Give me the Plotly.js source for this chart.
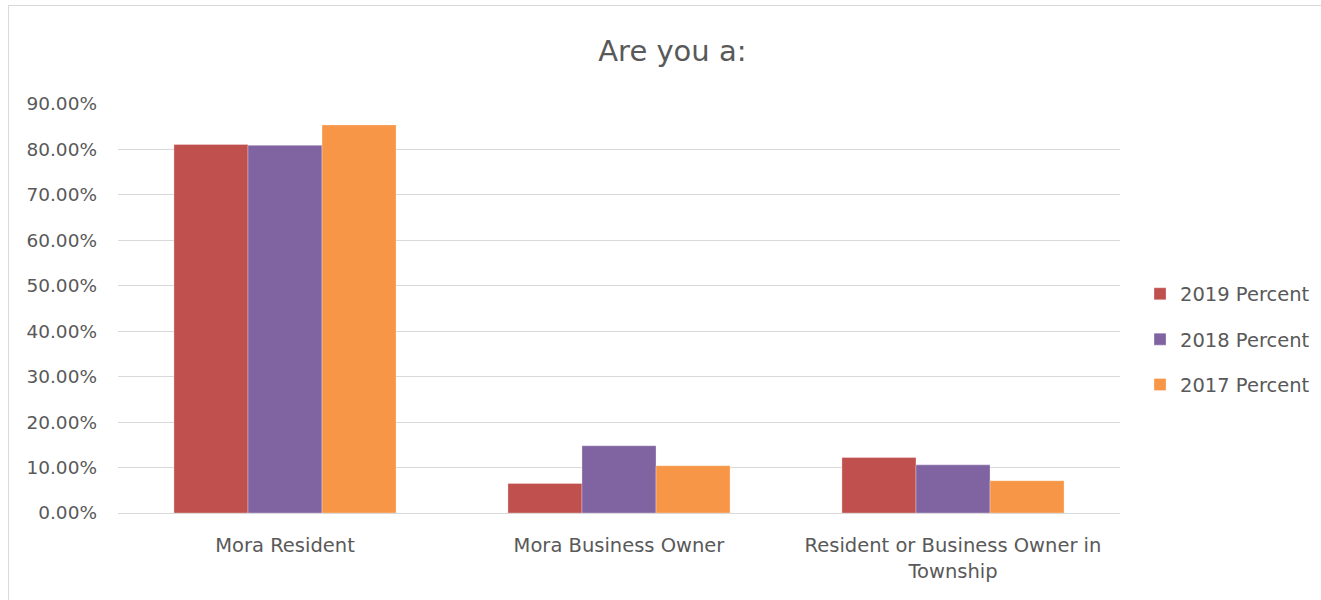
<!DOCTYPE html>
<html>
<head>
<meta charset="utf-8">
<script src="https://cdn.plot.ly/plotly-3.0.1.min.js"></script>
<style>
  html, body { margin: 0; padding: 0; background: #fff; }
  #wrap { position: relative; width: 1321px; height: 600px; overflow: hidden; }
  #chart { width: 1321px; height: 600px; }
  #frame { position: absolute; left: 8px; top: 5px; width: 1330px; height: 610px; border: 1px solid #d9d9d9; pointer-events: none; }
</style>
</head>
<body>
<div id="wrap">
  <div id="chart"></div>
  <div id="frame"></div>
</div>
<script>
const categories = ["Mora Resident", "Mora Business Owner", "Resident or Business Owner in<br>Township"];
const seriesNames = ["2019 Percent", "2018 Percent", "2017 Percent"];
const values2019 = [0.811, 0.065, 0.122];
const values2018 = [0.809, 0.148, 0.106];
const values2017 = [0.854, 0.104, 0.071];
const colors = ["#C0504D", "#8064A2", "#F79646"];

const allValues = [values2019, values2018, values2017];
const FONT = "'DejaVu Sans', 'Open Sans', sans-serif";

const traces = allValues.map((vals, i) => ({
  type: "bar",
  name: seriesNames[i],
  x: categories,
  y: vals,
  legendgroup: "g" + i,
  marker: { color: colors[i], line: { color: "rgba(255,255,255,0.6)", width: 0.5 } },
  hoverinfo: "x+y+name"
}));

const layout = {
  width: 1321,
  height: 600,
  paper_bgcolor: "#fff",
  plot_bgcolor: "#fff",
  margin: { l: 118, r: 201, t: 104, b: 87 },
  title: {
    text: "Are you a:",
    font: { family: FONT, size: 29, color: "#595959" },
    x: 0.509, xanchor: "center", y: 0.915, yanchor: "middle"
  },
  barmode: "group",
  bargap: 0.335,
  bargroupgap: 0,
  xaxis: {
    type: "category",
    showgrid: false,
    showline: true,
    linecolor: "#d9d9d9",
    linewidth: 1,
    ticks: "",
    ticklabelstandoff: 15,
    tickfont: { family: FONT, size: 19.5, color: "#595959" },
    zeroline: false,
    automargin: false
  },
  yaxis: {
    range: [0, 0.9],
    dtick: 0.1,
    tick0: 0,
    tickformat: ".2%",
    showgrid: true,
    gridcolor: "#d9d9d9",
    gridwidth: 1,
    zeroline: false,
    showline: false,
    ticks: "",
    ticklen: 0,
    ticklabelstandoff: 20,
    tickfont: { family: FONT, size: 18.5, color: "#595959" },
    automargin: false
  },
  showlegend: true,
  legend: {
    xref: "container",
    yref: "container",
    x: 0.863, xanchor: "left",
    y: 0.434, yanchor: "middle",
    font: { family: FONT, size: 19.5, color: "#595959" },
    traceorder: "grouped",
    tracegroupgap: 17,
    itemwidth: 30,
    bgcolor: "rgba(0,0,0,0)"
  }
};

Plotly.newPlot("chart", traces, layout, { displayModeBar: false, staticPlot: true });
</script>
</body>
</html>
